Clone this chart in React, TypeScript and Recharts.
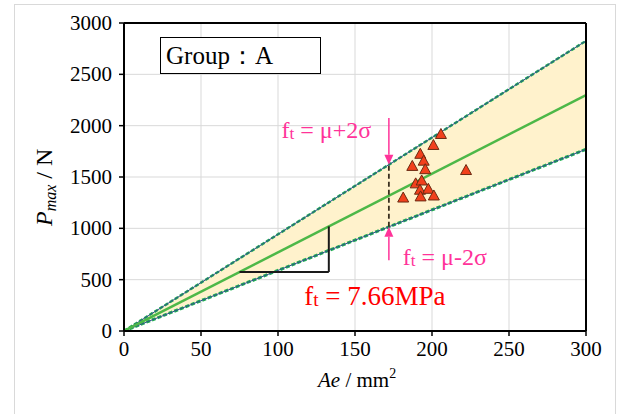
import React from "react";
import {
  ComposedChart,
  Area,
  Line,
  Scatter,
  XAxis,
  YAxis,
  CartesianGrid,
  ReferenceLine,
  ReferenceDot,
} from "recharts";

// ---- data ----
const lineAe = [0, 300];
const upperP = [0, 2826];
const meanP = [0, 2298];
const lowerP = [0, 1770];

const pointAe = [205.8, 200.9, 192.4, 194.6, 187.2, 195.6, 222.1, 189.4, 193.3, 192.2, 197.6, 181.3, 192.6, 201.2];
const pointP = [1919, 1812, 1726, 1659, 1608, 1576, 1568, 1438, 1466, 1376, 1385, 1300, 1311, 1320];

const xTicks = [0, 50, 100, 150, 200, 250, 300];
const yTicks = [0, 500, 1000, 1500, 2000, 2500, 3000];

const lineRows = lineAe.map((x, i) => ({
  x,
  upper: upperP[i],
  mean: meanP[i],
  lower: lowerP[i],
  band: [lowerP[i], upperP[i]],
}));
const points = pointAe.map((x, i) => ({ x, y: pointP[i] }));

// annotation anchors (data units)
const markAe = 172;
const markLow = 1015;
const markHigh = 1620;
const arrowTopStart = 2075;
const arrowBotStart = 690;
const slopeX0 = 75;
const slopeX1 = 133;
const slopeY0 = 575;
const slopeY1 = 1019;

const SERIF = '"Liberation Serif", "Times New Roman", serif';
const PINK = "#FF3399";

const Tri = (props: any) => {
  const { cx, cy } = props;
  if (cx == null || cy == null) return null;
  const pts = `${cx},${cy - 5.5} ${cx - 5.5},${cy + 4.5} ${cx + 5.5},${cy + 4.5}`;
  return <polygon points={pts} fill="#F2401C" stroke="#6B2A12" strokeWidth={1} />;
};

const Arrow = (props: any) => {
  const { x1, y1, x2, y2 } = props;
  const dx = x2 - x1;
  const dy = y2 - y1;
  const len = Math.sqrt(dx * dx + dy * dy) || 1;
  const ux = dx / len;
  const uy = dy / len;
  const hl = 10;
  const hw = 4.5;
  const bx = x2 - ux * hl;
  const by = y2 - uy * hl;
  const px = -uy;
  const py = ux;
  return (
    <g>
      <line x1={x1} y1={y1} x2={bx} y2={by} stroke={PINK} strokeWidth={1.5} />
      <polygon
        points={`${x2},${y2} ${bx + px * hw},${by + py * hw} ${bx - px * hw},${by - py * hw}`}
        fill={PINK}
      />
    </g>
  );
};

const makeLabel = (main: string, rest: string, color: string, size: number, anchor: "start" | "end") =>
  (props: any) => {
    const { cx, cy } = props;
    return (
      <text x={cx} y={cy} fill={color} textAnchor={anchor} style={{ fontFamily: SERIF, fontSize: size }}>
        <tspan>{main}</tspan>
        <tspan style={{ fontSize: size * 0.72 }} dy={1}>t</tspan>
        <tspan dy={-1}>{rest}</tspan>
      </text>
    );
  };

const XTick = (props: any) => {
  const { x, y, payload } = props;
  return (
    <text x={x} y={y + 16} textAnchor="middle" fill="#000" style={{ fontFamily: SERIF, fontSize: 21 }}>
      {payload.value}
    </text>
  );
};

const YTick = (props: any) => {
  const { x, y, payload } = props;
  return (
    <text x={x} y={y + 7} textAnchor="end" fill="#000" style={{ fontFamily: SERIF, fontSize: 21 }}>
      {payload.value}
    </text>
  );
};

export default function App() {
  return (
    <div style={{ position: "absolute", left: 0, top: 0, width: 624, height: 414, background: "#fff", overflow: "hidden" }}>
      <div
        style={{
          position: "absolute",
          left: 14,
          top: 4,
          width: 602,
          height: 420,
          border: "1px solid #d9d9d9",
          boxSizing: "border-box",
        }}
      />
      <div style={{ position: "absolute", left: 0, top: 0 }}>
        <ComposedChart
          width={624}
          height={414}
          data={lineRows}
          margin={{ top: 23, right: 38, left: 0, bottom: 0 }}
        >
          <CartesianGrid stroke="#d9d9d9" strokeWidth={1} />
          <XAxis
            dataKey="x"
            type="number"
            domain={[0, 300]}
            ticks={xTicks}
            allowDataOverflow
            height={83}
            axisLine={{ stroke: "#000", strokeWidth: 2 }}
            tickLine={{ stroke: "#000", strokeWidth: 1.5 }}
            tickSize={5}
            tickMargin={4}
            tick={<XTick />}
            interval={0}
          />
          <YAxis
            type="number"
            domain={[0, 3000]}
            ticks={yTicks}
            allowDataOverflow
            width={124}
            axisLine={{ stroke: "#000", strokeWidth: 2 }}
            tickLine={{ stroke: "#000", strokeWidth: 1.5 }}
            tickSize={5}
            tickMargin={7}
            tick={<YTick />}
            interval={0}
          />
          <Area
            type="linear"
            dataKey="band"
            stroke="none"
            fill="#FFF2CC"
            fillOpacity={1}
            isAnimationActive={false}
          />
          <Line type="linear" dataKey="upper" stroke="#1FB050" strokeWidth={2.5} strokeDasharray="4 2" dot={false} isAnimationActive={false} />
          <Line type="linear" dataKey="upper" stroke="#2F4F8F" strokeWidth={1} dot={false} isAnimationActive={false} />
          <Line type="linear" dataKey="lower" stroke="#1FB050" strokeWidth={3} strokeDasharray="4 2" dot={false} isAnimationActive={false} />
          <Line type="linear" dataKey="lower" stroke="#2F4F8F" strokeWidth={1} dot={false} isAnimationActive={false} />
          <Line type="linear" dataKey="mean" stroke="#4DB848" strokeWidth={2.5} dot={false} isAnimationActive={false} />

          <ReferenceLine
            segment={[{ x: markAe, y: markLow }, { x: markAe, y: markHigh }]}
            stroke="#3A3020"
            strokeWidth={1.8}
            strokeDasharray="5 3"
          />
          <ReferenceLine
            segment={[{ x: slopeX0, y: slopeY0 }, { x: slopeX1, y: slopeY0 }]}
            stroke="#1a1a1a"
            strokeWidth={2}
          />
          <ReferenceLine
            segment={[{ x: slopeX1, y: slopeY0 }, { x: slopeX1, y: slopeY1 }]}
            stroke="#1a1a1a"
            strokeWidth={2}
          />
          <ReferenceLine
            segment={[{ x: markAe, y: arrowTopStart }, { x: markAe, y: markHigh }]}
            shape={Arrow}
          />
          <ReferenceLine
            segment={[{ x: markAe, y: arrowBotStart }, { x: markAe, y: markLow }]}
            shape={Arrow}
          />
          <ReferenceLine y={3000} stroke="#000" strokeWidth={2} />
          <ReferenceLine x={300} stroke="#000" strokeWidth={2} />

          <Scatter data={points} dataKey="y" shape={Tri} isAnimationActive={false} />

          <ReferenceDot x={160.5} y={1880} r={0} shape={makeLabel("f", " = μ+2σ", PINK, 24, "end")} />
          <ReferenceDot x={181} y={643} r={0} shape={makeLabel("f", " = μ-2σ", PINK, 24, "start")} />
          <ReferenceDot x={117} y={250} r={0} shape={makeLabel("f", " = 7.66MPa", "#FF0000", 27, "start")} />
        </ComposedChart>
      </div>
      <svg
        width={624}
        height={414}
        style={{ position: "absolute", left: 0, top: 0, pointerEvents: "none" }}
      >
        <rect x={160.5} y={37.5} width={160} height={36} fill="#fff" stroke="#000" strokeWidth={1} />
        <text x={166} y={64} fill="#000" style={{ fontFamily: SERIF, fontSize: 25 }}>
          Group：A
        </text>
        <text x={318} y={387} fill="#000" style={{ fontFamily: SERIF, fontSize: 21 }}>
          <tspan fontStyle="italic">Ae</tspan>
          <tspan> / mm</tspan>
          <tspan style={{ fontSize: 14 }} dy={-9}>2</tspan>
        </text>
        <text
          transform="translate(52,226) rotate(-90)"
          x={0}
          y={0}
          fill="#000"
          style={{ fontFamily: SERIF, fontSize: 24 }}
        >
          <tspan fontStyle="italic">P</tspan>
          <tspan fontStyle="italic" style={{ fontSize: 16 }} dy={4}>max</tspan>
          <tspan dy={-4}> / N</tspan>
        </text>
      </svg>
    </div>
  );
}
